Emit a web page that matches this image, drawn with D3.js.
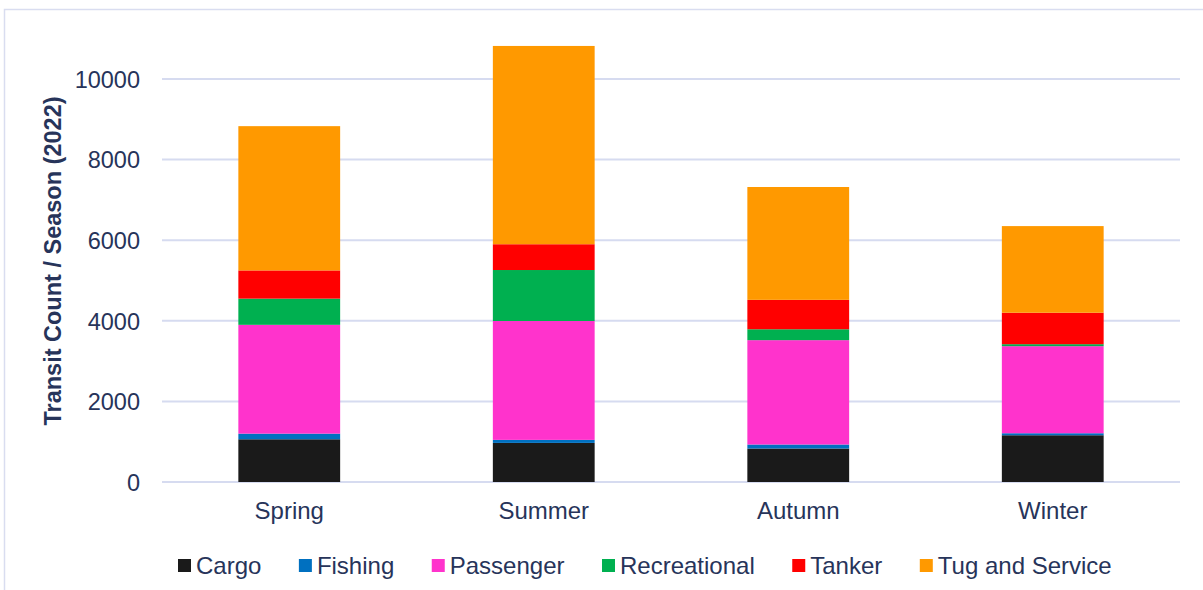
<!DOCTYPE html>
<html>
<head>
<meta charset="utf-8">
<script src="https://cdn.jsdelivr.net/npm/d3@7"></script>
<style>
  html, body { margin: 0; padding: 0; background: #ffffff; }
  svg { display: block; }
  text { font-family: "Liberation Sans", Arial, sans-serif; fill: #27345a; }
</style>
</head>
<body>
<svg id="chart" width="1203" height="590"></svg>
<script>
// Seasonal transit counts by vessel type, 2022
const seasons = ["Spring", "Summer", "Autumn", "Winter"];
const vesselTypes = ["Cargo", "Fishing", "Passenger", "Recreational", "Tanker", "Tug and Service"];
const cargo        = [1060,  970,  830, 1160];
const fishing      = [ 140,   75,  100,   50];
const passenger    = [2700, 2950, 2590, 2160];
const recreational = [ 650, 1265,  270,   50];
const tanker       = [ 700,  640,  730,  780];
const tugService   = [3580, 4920, 2800, 2150];
const yTicks = [0, 2000, 4000, 6000, 8000, 10000];
const colors = ["#1a1a1a", "#0070c0", "#ff33cc", "#00b050", "#ff0000", "#ff9900"];

const seriesValues = [cargo, fishing, passenger, recreational, tanker, tugService];
const rows = seasons.map((s, i) => {
  const r = { season: s };
  vesselTypes.forEach((t, k) => { r[t] = seriesValues[k][i]; });
  return r;
});

const svg = d3.select("#chart");

// outer frame
svg.append("rect")
  .attr("x", 4.5).attr("y", 9.5)
  .attr("width", 1210).attr("height", 600)
  .attr("fill", "none").attr("stroke", "#d9ddf0").attr("stroke-width", 1.5);

const plot = { left: 162, right: 1180, top: 79, bottom: 482 };

const x = d3.scaleBand()
  .domain(seasons)
  .range([plot.left, plot.right])
  .paddingInner(0.6)
  .paddingOuter(0.3);

const y = d3.scaleLinear()
  .domain([0, 10000])
  .range([plot.bottom, plot.top]);

// horizontal gridlines
svg.append("g")
  .selectAll("line")
  .data(yTicks)
  .join("line")
  .attr("x1", plot.left).attr("x2", plot.right)
  .attr("y1", d => y(d)).attr("y2", d => y(d))
  .attr("stroke", "#d6dbf0").attr("stroke-width", 2);

// y axis tick labels
const yAxis = d3.axisLeft(y).tickValues(yTicks).tickSize(0).tickPadding(0).tickFormat(d3.format("d"));
const yg = svg.append("g").attr("transform", `translate(${plot.left - 22},0)`).call(yAxis);
yg.select(".domain").remove();
yg.selectAll("text")
  .style("font-size", "23.5px")
  .style("fill", "#27345a")
  .style("font-family", "'Liberation Sans', Arial, sans-serif")
  .attr("dy", "0.35em");

// stacked bars
const stack = d3.stack().keys(vesselTypes);
const layers = stack(rows);

svg.append("g")
  .selectAll("g")
  .data(layers)
  .join("g")
  .attr("fill", (d, i) => colors[i])
  .selectAll("rect")
  .data(d => d)
  .join("rect")
  .attr("x", d => x(d.data.season))
  .attr("width", x.bandwidth())
  .attr("y", d => y(d[1]))
  .attr("height", d => y(d[0]) - y(d[1]));

// category labels
const xAxis = d3.axisBottom(x).tickSize(0).tickPadding(0);
const xg = svg.append("g").attr("transform", `translate(0,${plot.bottom + 37})`).call(xAxis);
xg.select(".domain").remove();
xg.selectAll("text")
  .attr("dy", 0)
  .style("font-size", "24px")
  .style("fill", "#27345a")
  .style("font-family", "'Liberation Sans', Arial, sans-serif");

// y axis title
svg.append("text")
  .attr("transform", "translate(61,261) rotate(-90)")
  .attr("text-anchor", "middle")
  .style("font-size", "23.5px")
  .style("font-weight", "bold")
  .text("Transit Count / Season (2022)");

// legend
const legend = svg.append("g");
let lx = 178;
vesselTypes.forEach((t, i) => {
  legend.append("rect")
    .attr("x", lx).attr("y", 559)
    .attr("width", 13).attr("height", 13)
    .attr("fill", colors[i]);
  const txt = legend.append("text")
    .attr("x", lx + 18).attr("y", 573.5)
    .style("font-size", "24px")
    .text(t);
  lx += 18 + txt.node().getComputedTextLength() + 37.5;
});
</script>
</body>
</html>
